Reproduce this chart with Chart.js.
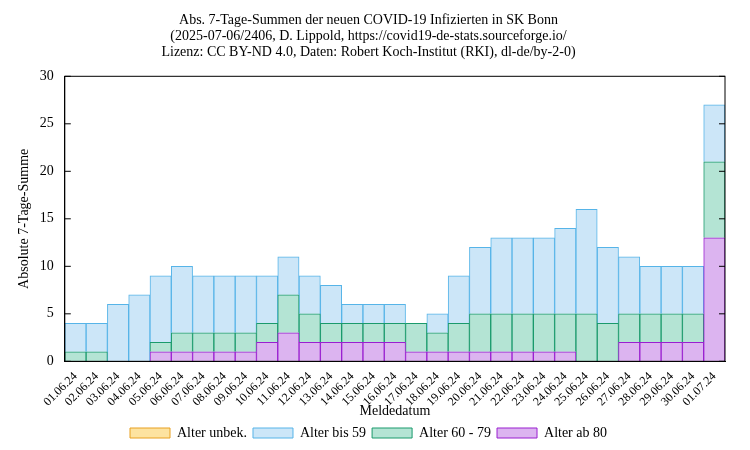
<!DOCTYPE html>
<html><head><meta charset="utf-8">
<script src="https://cdn.jsdelivr.net/npm/chart.js@4"></script>
<style>body{margin:0;background:#fff}#w{width:750px;height:450px}</style>
</head><body><div id="w"><canvas id="c"></canvas></div>
<script>
const labels=["01.06.24","02.06.24","03.06.24","04.06.24","05.06.24","06.06.24","07.06.24","08.06.24","09.06.24","10.06.24","11.06.24","12.06.24","13.06.24","14.06.24","15.06.24","16.06.24","17.06.24","18.06.24","19.06.24","20.06.24","21.06.24","22.06.24","23.06.24","24.06.24","25.06.24","26.06.24","27.06.24","28.06.24","29.06.24","30.06.24","01.07.24"];
const total=[4,4,6,7,9,10,9,9,9,9,11,9,8,6,6,6,4,5,9,12,13,13,13,14,16,12,11,10,10,10,27];
const age60plus=[1,1,0,0,2,3,3,3,3,4,7,5,4,4,4,4,4,3,4,5,5,5,5,5,5,4,5,5,5,5,21];
const age80=[0,0,0,0,1,1,1,1,1,2,3,2,2,2,2,2,1,1,1,1,1,1,1,1,0,0,2,2,2,2,13];
const unknown=labels.map(()=>0);
const age6079=age60plus.map((v,i)=>v-age80[i]);
const ageTo59=total.map((v,i)=>v-age60plus[i]);
const F="'Liberation Serif', serif";
Chart.defaults.font.family=F;Chart.defaults.font.size=14;Chart.defaults.color="#000";
const ds=(l,d,bg,bc)=>({label:l,data:d,backgroundColor:bg,borderColor:bc,borderWidth:1,barPercentage:1,categoryPercentage:1});
const frame={id:'frame',afterDraw(ch){const a=ch.chartArea,c=ch.ctx;c.save();c.strokeStyle='#000';c.lineWidth=1;c.strokeRect(a.left,a.top,a.right-a.left,a.bottom-a.top);
 const y=ch.scales.y;for(let v=0;v<=30;v+=5){const p=y.getPixelForValue(v);c.beginPath();c.moveTo(a.left,p);c.lineTo(a.left+6,p);c.moveTo(a.right,p);c.lineTo(a.right-6,p);c.stroke();}
 c.restore();}};
new Chart(document.getElementById('c'),{type:'bar',
data:{labels,datasets:[
 ds("Alter ab 80",age80,"#dcb4f0","#9a1fd0"),
 ds("Alter 60 - 79",age6079,"#b4e4d4","#1a9a6c"),
 ds("Alter bis 59",ageTo59,"#cce6f8","#56b4e8"),
 ds("Alter unbek.",unknown,"#fde3a0","#e8a020")]},
options:{animation:false,responsive:true,maintainAspectRatio:false,
 layout:{padding:{right:25,left:12,bottom:0}},
 plugins:{title:{display:true,text:["Abs. 7-Tage-Summen der neuen COVID-19 Infizierten in SK Bonn","(2025-07-06/2406, D. Lippold, https://covid19-de-stats.sourceforge.io/","Lizenz: CC BY-ND 4.0, Daten: Robert Koch-Institut (RKI), dl-de/by-2-0)"],font:{size:14,weight:'normal',lineHeight:1.15},padding:{top:12,bottom:16}},
  legend:{position:'bottom',reverse:true,labels:{boxWidth:40,boxHeight:10,padding:6}},tooltip:{enabled:false}},
 scales:{
  x:{stacked:true,grid:{display:false},border:{color:'#000'},ticks:{maxRotation:45,minRotation:45,autoSkip:false,font:{size:12},padding:0},title:{display:true,text:"Meldedatum",padding:{top:-6,bottom:0}}},
  y:{stacked:true,min:0,max:30,grid:{display:false},border:{color:'#000'},ticks:{stepSize:5},title:{display:true,text:"Absolute 7-Tage-Summe"}}}
},plugins:[frame]});
</script></body></html>
